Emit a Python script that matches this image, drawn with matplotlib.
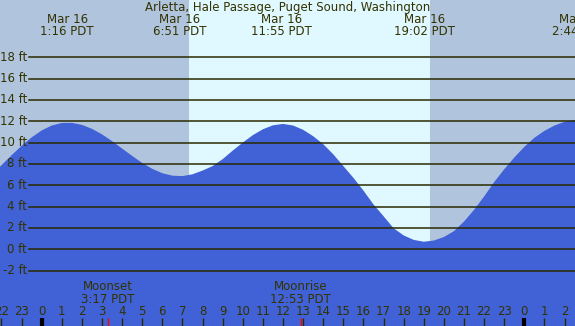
import matplotlib
matplotlib.use("Agg")
import matplotlib.pyplot as plt
import matplotlib.transforms as mtransforms

# ---------------- data ----------------
title = "Arletta, Hale Passage, Puget Sound, Washington"

hours = [-2.5, -2.0, -1.5, -1.0, -0.5, 0.0, 0.5, 1.0, 1.5, 2.0,
         2.5, 3.0, 3.5, 4.0, 4.5, 5.0, 5.5, 6.0, 6.5, 7.0,
         7.5, 8.0, 8.5, 9.0, 9.5, 10.0, 10.5, 11.0, 11.5, 12.0,
         12.5, 13.0, 13.5, 14.0, 14.5, 15.0, 15.5, 16.0, 16.5, 17.0,
         17.5, 18.0, 18.5, 19.0, 19.5, 20.0, 20.5, 21.0, 21.5, 22.0,
         22.5, 23.0, 23.5, 24.0, 24.5, 25.0, 25.5, 26.0, 26.5, 27.0]
heights = [6.96, 7.88, 8.81, 9.70, 10.49, 11.14, 11.60, 11.84, 11.85, 11.66,
           11.29, 10.77, 10.14, 9.44, 8.75, 8.09, 7.54, 7.13, 6.90, 6.86,
           7.03, 7.38, 7.80, 8.45, 9.25, 10.0, 10.7, 11.25, 11.62, 11.75,
           11.6, 11.2, 10.6, 9.85, 8.9, 7.8, 6.7, 5.5, 4.2, 3.1,
           1.97, 1.3, 0.88, 0.71, 0.82, 1.15, 1.7, 2.6, 3.7, 4.95,
           6.3, 7.5, 8.6, 9.6, 10.45, 11.1, 11.6, 11.95, 12.12, 12.2]

event_hours = [1.267, 6.85, 11.917, 19.033, 26.733]
event_dates = ["Mar 16", "Mar 16", "Mar 16", "Mar 16", "Mar 17"]
event_times = ["1:16 PDT", "6:51 PDT", "11:55 PDT", "19:02 PDT", "2:44 PDT"]

sunrise = 7.325
sunset = 19.31

moon_names = ["Moonset", "Moonrise"]
moon_hours = [3.283, 12.883]
moon_times = ["3:17 PDT", "12:53 PDT"]

tick_hours = list(range(-2, 27))
tick_labels = ["22", "23"] + [str(h) for h in range(24)] + ["0", "1", "2"]

ft_levels = [-2, 0, 2, 4, 6, 8, 10, 12, 14, 16, 18]
ft_labels = [f"{v} ft" for v in ft_levels]

# ---------------- style ----------------
W, H = 575, 326
night_c = "#B0C4DE"
day_c = "#E0F8FF"
water_c = "#4161D6"
grid_c = "#2A2A00"
text_c = "#333300"
fs = 8.5

x0_px, px_per_h = 41.7, 20.11
y0_px, px_per_ft = 249.3, 10.67

fig = plt.figure(figsize=(W / 100, H / 100), dpi=100)
ax = fig.add_axes([0, 0, 1, 1])
ax.set_xlim(-x0_px / px_per_h, (W - x0_px) / px_per_h)
ax.set_ylim((y0_px - H) / px_per_ft, y0_px / px_per_ft)
ax.axis("off")

def fy(py):
    return 1 - py / H

bt = mtransforms.blended_transform_factory(ax.transData, ax.transAxes)

# background night / day
xl = ax.get_xlim()
ax.axvspan(xl[0], sunrise, color=night_c, lw=0, zorder=0)
ax.axvspan(sunrise, sunset, color=day_c, lw=0, zorder=0)
ax.axvspan(sunset, xl[1], color=night_c, lw=0, zorder=0)

# water
ax.fill_between(hours, heights, ax.get_ylim()[0] - 1, color=water_c, lw=0, zorder=1)

# grid lines and labels
for v, lab in zip(ft_levels, ft_labels):
    ax.axhline(v, xmin=29 / W, xmax=1, color=grid_c, lw=1.1, zorder=2)
    ax.text(27 / W, v, lab, transform=mtransforms.blended_transform_factory(ax.transAxes, ax.transData),
            ha="right", va="center", fontsize=fs, color=text_c, zorder=3)

# title
fig.text(0.5, fy(7.5), title, ha="center", va="center", fontsize=fs, color=text_c)

# tide event labels
for h, d, t in zip(event_hours, event_dates, event_times):
    ax.text(h, fy(19.3), d, transform=bt, ha="center", va="center", fontsize=fs, color=text_c)
    ax.text(h, fy(31.5), t, transform=bt, ha="center", va="center", fontsize=fs, color=text_c)

# moon labels
for n, h, t in zip(moon_names, moon_hours, moon_times):
    ax.text(h, fy(287), n, transform=bt, ha="center", va="center", fontsize=fs, color=text_c)
    ax.text(h, fy(299.5), t, transform=bt, ha="center", va="center", fontsize=fs, color=text_c)
    ax.vlines(h, fy(326), fy(318), transform=bt, color="red", lw=1, zorder=3)

# hour ticks
for h, lab in zip(tick_hours, tick_labels):
    ax.text(h, fy(311.5), lab, transform=bt, ha="center", va="center", fontsize=fs, color=text_c)
    lw = 3 if lab == "0" else 1
    c = "black" if lab == "0" else grid_c
    ax.vlines(h, fy(326), fy(318), transform=bt, color=c, lw=lw, zorder=3)

fig.savefig("out.png", dpi=100)
